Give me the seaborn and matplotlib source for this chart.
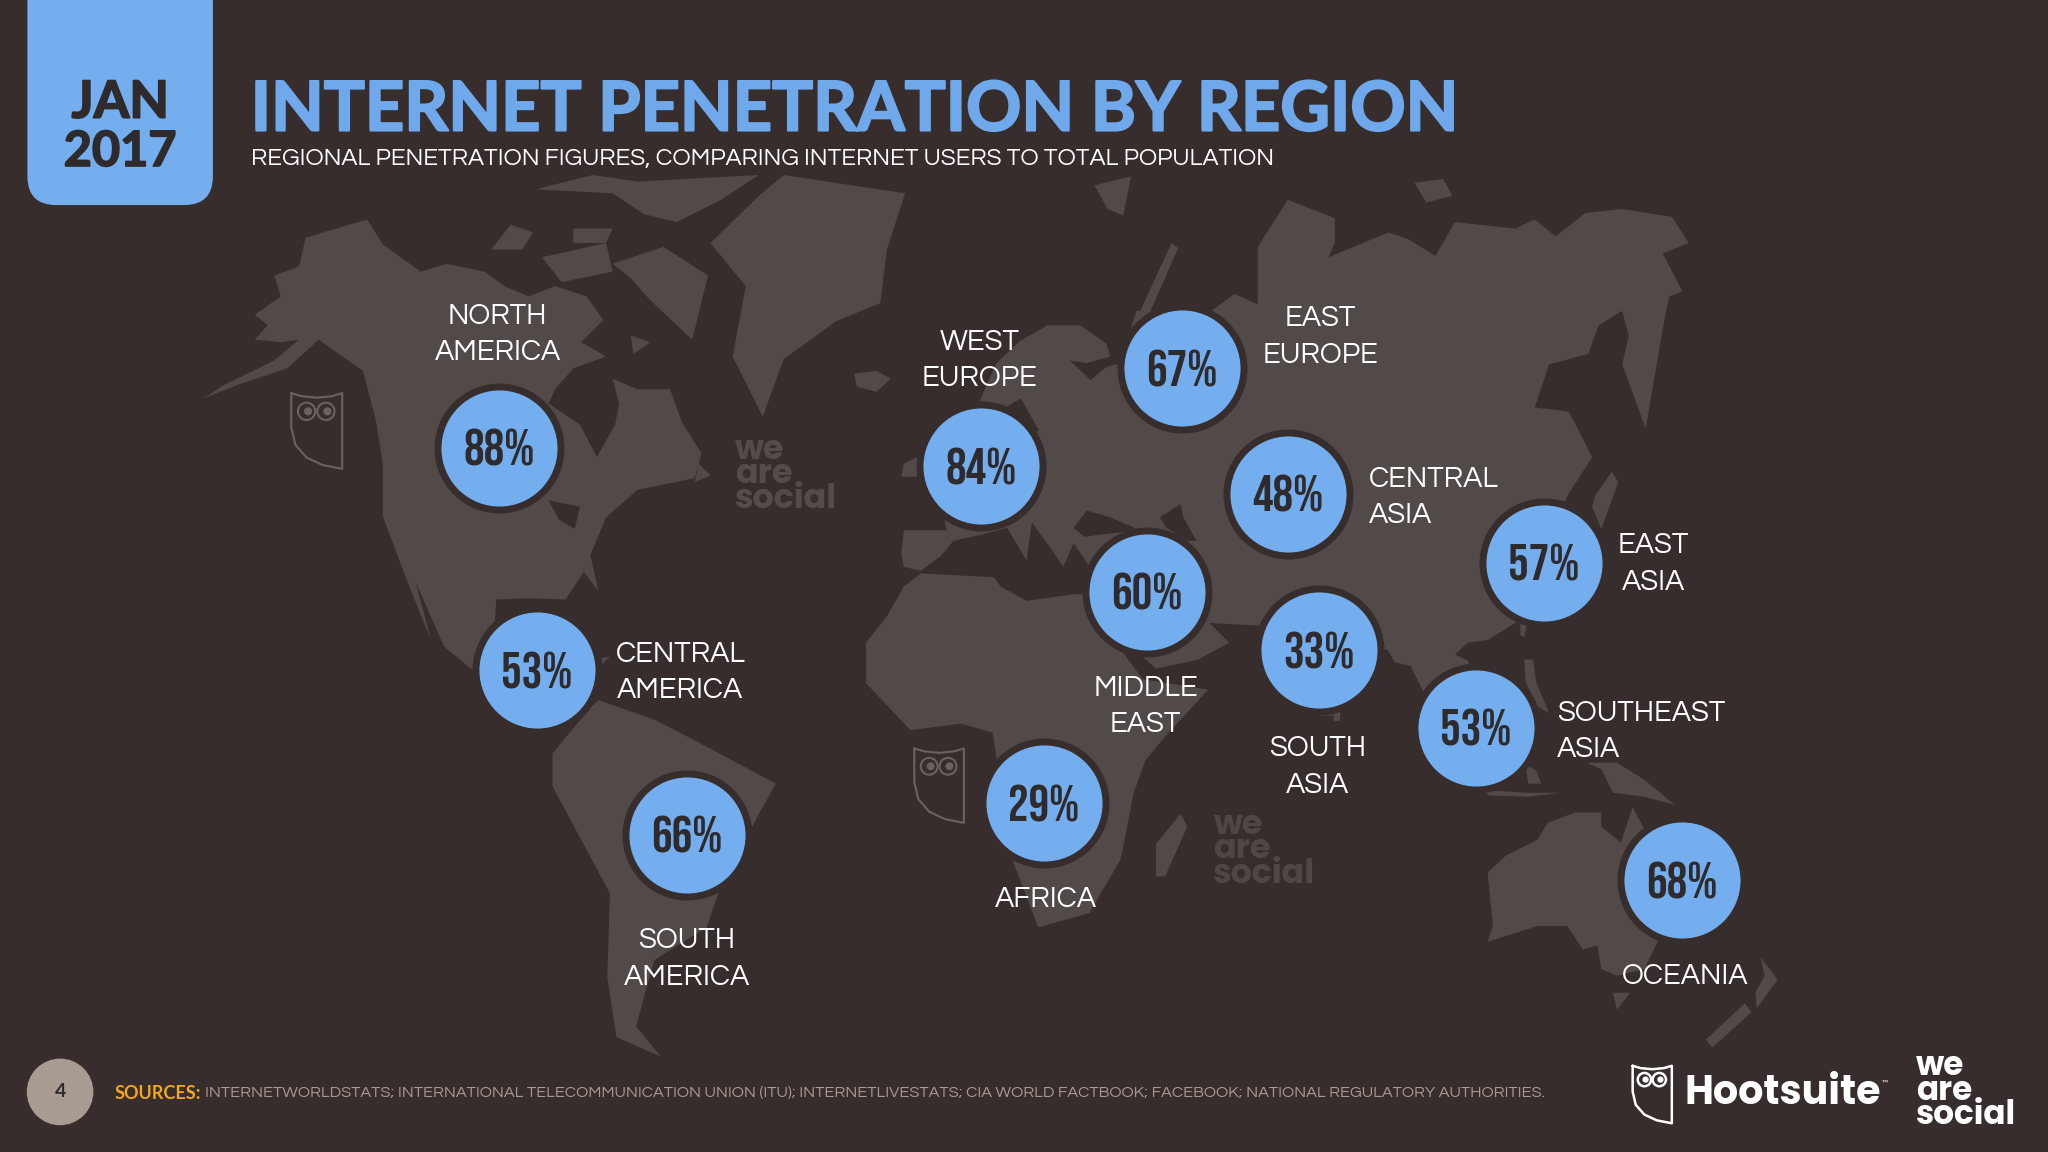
import pandas as pd
import seaborn as sns
import matplotlib.pyplot as plt
import matplotlib.patheffects as pe
from matplotlib.patches import FancyBboxPatch, Circle

BG = '#362d2c'
LAND = '#524a48'
BLUE = '#74aeee'
DARK = '#2f2a2c'
WHITE = '#ffffff'

BODY_FONT = ['Questrial', 'Lato', 'DejaVu Sans']
NUM_FONT = ['Bebas Neue', 'Barlow Condensed', 'Lato', 'DejaVu Sans']
LOGO_FONT = ['Poppins', 'Lato', 'DejaVu Sans']

# regions and penetration (percent)
regions = ['NORTH\nAMERICA', 'WEST\nEUROPE', 'EAST\nEUROPE', 'CENTRAL\nASIA', 'EAST\nASIA',
           'MIDDLE\nEAST', 'SOUTH\nASIA', 'CENTRAL\nAMERICA', 'SOUTHEAST\nASIA',
           'SOUTH\nAMERICA', 'AFRICA', 'OCEANIA']
penetration = [88, 84, 67, 48, 57, 60, 33, 53, 53, 66, 29, 68]

# where each bubble sits on the map
bubble_x = [382, 751, 905, 986, 1182, 878, 1010, 411, 1130, 526, 799, 1288]
bubble_y = [343, 357, 282, 378, 431, 453, 498, 513, 557, 639, 615, 674]

label_x = [381, 750, 1011, 1048, 1266, 877, 1009, 521, 1192, 526, 801, 1290]
label_y = [256, 276, 258, 381, 432, 541, 587, 515, 560, 734, 689, 748]
label_ha = ['center', 'center', 'center', 'left', 'center', 'center', 'center', 'center',
            'left', 'center', 'center', 'center']

# map outlines
north_america = [(156, 305), (171, 295), (210, 276), (229, 260), (215, 262), (195, 260), (205, 249), (195, 241),
                 (215, 227), (210, 211), (229, 204), (234, 182), (281, 168), (293, 187), (322, 208), (342, 202),
                 (371, 208), (386, 219), (405, 227), (425, 219), (449, 227), (462, 245), (445, 262), (464, 273),
                 (439, 282), (425, 298), (420, 309), (444, 325), (457, 350), (471, 325), (474, 309), (469, 290),
                 (488, 298), (513, 298), (522, 323), (537, 347), (532, 366), (488, 375), (464, 396), (452, 425),
                 (458, 452), (447, 438), (433, 459), (404, 458), (380, 459), (378, 490), (395, 510), (467, 503),
                 (448, 520), (458, 531), (455, 536), (420, 530), (362, 513), (340, 495), (318, 445), (330, 490),
                 (311, 443), (293, 395), (293, 355), (288, 323), (278, 284), (244, 260), (220, 282), (181, 295)]
south_america = [(458, 536), (501, 551), (536, 569), (594, 600), (580, 625), (550, 684), (541, 710), (501, 735),
                 (494, 760), (487, 786), (506, 809), (472, 794), (465, 748), (467, 684), (423, 602), (423, 577),
                 (436, 561), (453, 541)]
greenland = [(544, 186), (581, 150), (600, 134), (693, 148), (679, 191), (674, 232), (640, 246), (600, 275),
             (584, 319), (561, 273), (571, 219)]
ellesmere = [(410, 145), (454, 134), (488, 139), (581, 134), (552, 153), (518, 170), (493, 164), (469, 148)]
banks = [(376, 191), (391, 172), (408, 178), (400, 191)]
victoria = [(415, 197), (464, 186), (469, 208), (430, 216)]
somerset = [(439, 175), (469, 175), (464, 186), (439, 186)]
baffin = [(469, 202), (508, 189), (542, 211), (530, 260), (498, 230), (483, 213)]
southampton = [(483, 257), (498, 262), (485, 271)]
newfoundland = [(535, 355), (544, 364), (532, 369)]
iceland = [(654, 286), (671, 284), (682, 290), (671, 300), (656, 296)]
eurasia = [(858, 278), (870, 238), (925, 240), (945, 225), (963, 233), (963, 189), (986, 153), (1022, 167),
           (1022, 186), (1017, 197), (1063, 178), (1078, 183), (1099, 196), (1114, 170), (1160, 175), (1175, 168),
           (1191, 181), (1214, 163), (1242, 160), (1280, 166), (1293, 186), (1273, 194), (1288, 223), (1278, 227),
           (1273, 252), (1260, 328), (1242, 279), (1247, 257), (1242, 238), (1224, 249), (1216, 271), (1186, 279),
           (1175, 312), (1201, 315), (1211, 334), (1219, 350), (1201, 378), (1190, 400), (1190, 440), (1165, 474),
           (1139, 490), (1124, 492), (1114, 501), (1124, 506), (1130, 530), (1110, 560), (1095, 545), (1089, 528),
           (1080, 510), (1068, 507), (1062, 497), (1050, 500), (1020, 548), (1010, 548), (975, 500), (966, 479),
           (926, 477), (941, 492), (917, 505), (885, 512), (872, 500), (860, 480), (850, 460), (833, 432),
           (822, 416), (814, 434), (804, 419), (790, 400), (786, 429), (771, 404), (753, 409), (730, 414),
           (720, 426), (705, 437), (692, 434), (690, 424), (692, 406), (725, 406), (720, 385), (705, 370),
           (745, 345), (779, 317), (791, 332), (817, 319), (801, 337), (794, 327), (781, 304), (791, 299),
           (770, 312), (750, 307), (763, 278), (781, 261), (802, 249), (827, 249), (847, 263), (850, 273),
           (832, 278), (819, 276), (835, 291), (847, 281)]
africa = [(679, 472), (692, 449), (705, 439), (761, 442), (766, 449), (786, 460), (822, 455), (833, 455), (850, 468),
          (860, 500), (875, 520), (925, 528), (892, 564), (877, 582), (868, 607), (858, 658), (834, 699), (795, 710),
          (775, 658), (760, 561), (736, 554), (697, 559), (663, 523), (663, 492)]
madagascar = [(904, 623), (909, 633), (892, 671), (885, 671), (885, 646)]
australia = [(1206, 622), (1226, 622), (1226, 633), (1241, 645), (1250, 618), (1259, 635), (1310, 690), (1270, 719),
             (1259, 742), (1238, 747), (1226, 742), (1223, 724), (1212, 727), (1200, 709), (1177, 709), (1139, 721),
             (1143, 709), (1139, 668), (1153, 655), (1177, 643), (1185, 630)]
ireland = [(692, 355), (702, 350), (707, 355), (702, 365), (690, 365)]
japan = [(1221, 380), (1234, 361), (1239, 369), (1226, 405), (1219, 388)]
new_guinea = [(1215, 584), (1238, 584), (1259, 597), (1282, 616), (1259, 610), (1235, 607), (1226, 589)]
philippines = [(1167, 505), (1174, 505), (1176, 522), (1186, 546), (1176, 540), (1168, 522)]
sulawesi = [(1168, 585), (1176, 590), (1180, 600), (1170, 600)]
java = [(1136, 605), (1170, 607), (1195, 607), (1170, 610), (1140, 609)]
taiwan = [(1164, 476), (1169, 478), (1167, 488), (1164, 486)]
sri_lanka = [(1021, 544), (1026, 545), (1026, 552), (1021, 552)]
tasmania = [(1235, 760), (1248, 760), (1238, 773)]
nz_north = [(1348, 733), (1361, 750), (1345, 772), (1344, 760), (1351, 747)]
nz_south = [(1336, 768), (1341, 775), (1311, 802), (1306, 796)]
novaya = [(897, 186), (902, 190), (880, 240), (873, 238)]
svalbard = [(838, 142), (866, 135), (860, 165), (848, 160)]
severnaya = [(1083, 140), (1105, 137), (1112, 150), (1092, 155)]
land_shapes = [north_america, south_america, greenland, ellesmere, banks, victoria, somerset, baffin, southampton,
               newfoundland, iceland, eurasia, africa, madagascar, australia, ireland, japan, new_guinea, philippines,
               sulawesi, java, taiwan, sri_lanka, tasmania, nz_north, nz_south, novaya, svalbard, severnaya]

# seas cut out of the land
black_sea = [(822, 404), (832, 391), (850, 396), (873, 406), (845, 409), (830, 411)]
caspian = [(888, 396), (904, 386), (906, 396), (916, 414), (909, 414), (893, 404)]
great_lakes = [(420, 383), (444, 388), (440, 405), (428, 398)]
water_shapes = [black_sea, caspian, great_lakes]

sources = ('INTERNETWORLDSTATS; INTERNATIONAL TELECOMMUNICATION UNION (ITU); INTERNETLIVESTATS; '
           'CIA WORLD FACTBOOK; FACEBOOK; NATIONAL REGULATORY AUTHORITIES.')

sns.set_theme(style='white')
plt.rcParams['font.family'] = ['Lato', 'DejaVu Sans']

fig = plt.figure(figsize=(20.48, 11.52), dpi=100, facecolor=BG)
ax = fig.add_axes([0, 0, 1, 1], facecolor=BG)
ax.set_xlim(0, 1568)
ax.set_ylim(882, 0)
ax.axis('off')

for shape in land_shapes:
    ax.fill(*zip(*shape), color=LAND, lw=0, zorder=1)
for shape in water_shapes:
    ax.fill(*zip(*shape), color=BG, lw=0, zorder=1.1)


def owl(x, y, w, h, color, lw):
    # shield shaped owl logo
    xs = [x, x + w * 0.2, x + w * 0.5, x + w * 0.8, x + w, x + w, x + w * 0.62, x + w * 0.3, x + w * 0.08, x, x]
    ys = [y, y + h * 0.04, y + h * 0.06, y + h * 0.04, y, y + h, y + h * 0.95, y + h * 0.85, y + h * 0.68, y + h * 0.45, y]
    ax.plot(xs, ys, color=color, lw=lw, zorder=1.2)
    for cx in (x + w * 0.3, x + w * 0.68):
        ax.add_patch(Circle((cx, y + h * 0.24), w * 0.17, fc='none', ec=color, lw=lw, zorder=1.2))
        ax.add_patch(Circle((cx + w * 0.03, y + h * 0.24), w * 0.08, fc=color, ec='none', zorder=1.2))


owl(223, 301, 39, 58, '#6a6260', 1.5)
owl(700, 573, 38, 57, '#6a6260', 1.5)
ax.text(563, 364, 'we\nare\nsocial', color='#544c4a', fontsize=24, fontweight='bold', ha='left', va='center',
        linespacing=0.62, family=LOGO_FONT)
ax.text(929, 651, 'we\nare\nsocial', color='#4f4745', fontsize=24, fontweight='bold', ha='left', va='center',
        linespacing=0.62, family=LOGO_FONT)

# date tab
ax.add_patch(FancyBboxPatch((21, -60), 142, 217, boxstyle='round,pad=0,rounding_size=22', fc=BLUE, ec='none',
                            zorder=2))
ax.text(92, 79, 'JAN', color=DARK, fontsize=37, fontweight='bold', ha='center', va='center',
        path_effects=[pe.withStroke(linewidth=1.2, foreground=DARK)])
ax.text(92, 116, '2017', color=DARK, fontsize=35, fontweight='bold', ha='center', va='center',
        path_effects=[pe.withStroke(linewidth=1.2, foreground=DARK)])

ax.text(192, 85, 'INTERNET PENETRATION BY REGION', color='#6fa9ec', fontsize=49.3, fontweight='bold',
        ha='left', va='center', path_effects=[pe.withStroke(linewidth=1.5, foreground='#6fa9ec')])
ax.text(192, 122, 'REGIONAL PENETRATION FIGURES, COMPARING INTERNET USERS TO TOTAL POPULATION', color=WHITE,
        fontsize=17.5, ha='left', va='center', family=BODY_FONT)

df = pd.DataFrame({'region': regions, 'penetration': penetration, 'x': bubble_x, 'y': bubble_y})
sns.scatterplot(data=df, x='x', y='y', s=7850, color=BLUE, edgecolor=BG, linewidth=5, legend=False, ax=ax,
                zorder=3, clip_on=False)
ax.set_xlabel('')
ax.set_ylabel('')

for row in df.itertuples():
    ax.text(row.x, row.y, f'{row.penetration}%', color=DARK, fontsize=37, fontweight='bold', ha='center',
            va='center', zorder=4, family=NUM_FONT)

for name, lx, ly, ha in zip(regions, label_x, label_y, label_ha):
    ax.text(lx, ly, name, color=WHITE, fontsize=21, ha=ha, va='center', multialignment=ha, linespacing=1.46,
            zorder=4, family=BODY_FONT)

# footer
ax.add_patch(Circle((46, 836), 25.5, fc='#a89b91', ec='none', zorder=2))
ax.text(46, 836, '4', color=DARK, fontsize=14, fontweight='bold', ha='center', va='center', zorder=3)
ax.text(88, 837, 'SOURCES:', color='#f5a623', fontsize=13, fontweight='bold', ha='left', va='center')
ax.text(157, 837, sources, color='#a89b91', fontsize=11.66, ha='left', va='center', family=BODY_FONT)

owl(1250, 816, 30, 44, WHITE, 1.8)
ax.text(1290, 838, 'Hootsuite', color=WHITE, fontsize=28.5, fontweight='bold', ha='left', va='center',
        family=LOGO_FONT)
ax.text(1441, 829, '™', color=WHITE, fontsize=6, ha='left', va='center')
ax.text(1467, 836, 'we\nare\nsocial', color=WHITE, fontsize=23.5, fontweight='bold', ha='left', va='center',
        linespacing=0.62, family=LOGO_FONT)

fig.savefig('out.png', dpi=100, facecolor=BG)
